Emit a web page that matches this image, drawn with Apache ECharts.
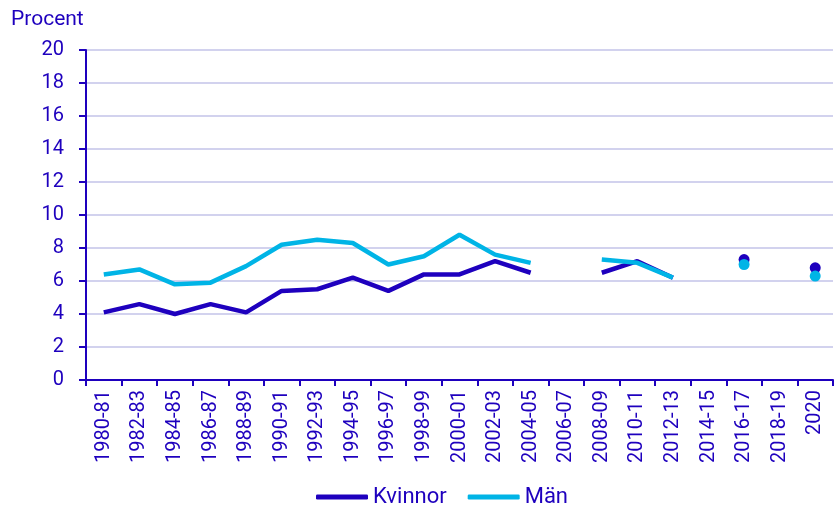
<!DOCTYPE html>
<html>
<head>
<meta charset="utf-8">
<script src="https://cdn.jsdelivr.net/npm/echarts@6/dist/echarts.min.js"></script>
<style>
  html, body { margin: 0; padding: 0; background: #fff; }
  #main { width: 834px; height: 508px; }
</style>
</head>
<body>
<div id="main"></div>
<script>
var years = ['1980-81', '1982-83', '1984-85', '1986-87', '1988-89', '1990-91', '1992-93',
  '1994-95', '1996-97', '1998-99', '2000-01', '2002-03', '2004-05', '2006-07', '2008-09',
  '2010-11', '2012-13', '2014-15', '2016-17', '2018-19', '2020'];
var kvinnor = [4.1, 4.6, 4.0, 4.6, 4.1, 5.4, 5.5, 6.2, 5.4, 6.4, 6.4, 7.2, 6.5, null, 6.5,
  7.2, 6.2, null, 7.3, null, 6.8];
var man = [6.4, 6.7, 5.8, 5.9, 6.9, 8.2, 8.5, 8.3, 7.0, 7.5, 8.8, 7.6, 7.1, null, 7.3,
  7.1, 6.2, null, 7.0, null, 6.3];

var textColor = '#1e00be';

// punkter utan grannar visas som prickar
function dotSize(arr) {
  return function (val, params) {
    var i = params.dataIndex;
    var prev = i > 0 ? arr[i - 1] : null;
    var next = i < arr.length - 1 ? arr[i + 1] : null;
    return (prev == null && next == null) ? 11 : 0;
  };
}

var myChart = echarts.init(document.getElementById('main'));

var option = {
  animation: false,
  textStyle: { fontFamily: 'Roboto', color: textColor },
  title: {
    text: 'Procent',
    left: 6,
    top: 4,
    textStyle: { fontFamily: 'Roboto', fontSize: 21, fontWeight: 'normal', color: textColor }
  },
  legend: {
    bottom: -5,
    left: 311,
    icon: 'roundRect',
    itemWidth: 52,
    itemHeight: 5,
    itemGap: 21,
    textStyle: { fontFamily: 'Roboto', fontSize: 22, color: textColor },
    data: ['Kvinnor', 'Män']
  },
  grid: { left: 86, right: 1, top: 50, bottom: 128 },
  xAxis: {
    type: 'category',
    data: years,
    boundaryGap: true,
    axisLine: { lineStyle: { color: textColor, width: 2 } },
    axisTick: { show: true, length: 6, lineStyle: { color: textColor, width: 2 } },
    axisLabel: { rotate: 90, interval: 0, fontSize: 20, color: textColor, margin: 10, fontFamily: 'Roboto' }
  },
  yAxis: {
    type: 'value',
    min: 0,
    max: 20,
    interval: 2,
    axisLine: { show: true, lineStyle: { color: textColor, width: 2 } },
    axisTick: { show: true, length: 7, lineStyle: { color: textColor, width: 2 } },
    axisLabel: { fontSize: 20, color: textColor, margin: 22, fontFamily: 'Roboto' },
    splitLine: { lineStyle: { color: '#d2d2ee', width: 2 } }
  },
  series: [
    {
      name: 'Kvinnor',
      type: 'line',
      data: kvinnor,
      connectNulls: false,
      symbol: 'circle',
      showSymbol: true,
      showAllSymbol: true,
      symbolSize: dotSize(kvinnor),
      lineStyle: { color: '#1e00be', width: 4.5 },
      itemStyle: { color: '#1e00be' }
    },
    {
      name: 'Män',
      type: 'line',
      data: man,
      connectNulls: false,
      symbol: 'circle',
      showSymbol: true,
      showAllSymbol: true,
      symbolSize: dotSize(man),
      lineStyle: { color: '#00b4e6', width: 4.5 },
      itemStyle: { color: '#00b4e6' }
    }
  ]
};

myChart.setOption(option);
window.onresize = function () {
  myChart.resize();
};
</script>
</body>
</html>
